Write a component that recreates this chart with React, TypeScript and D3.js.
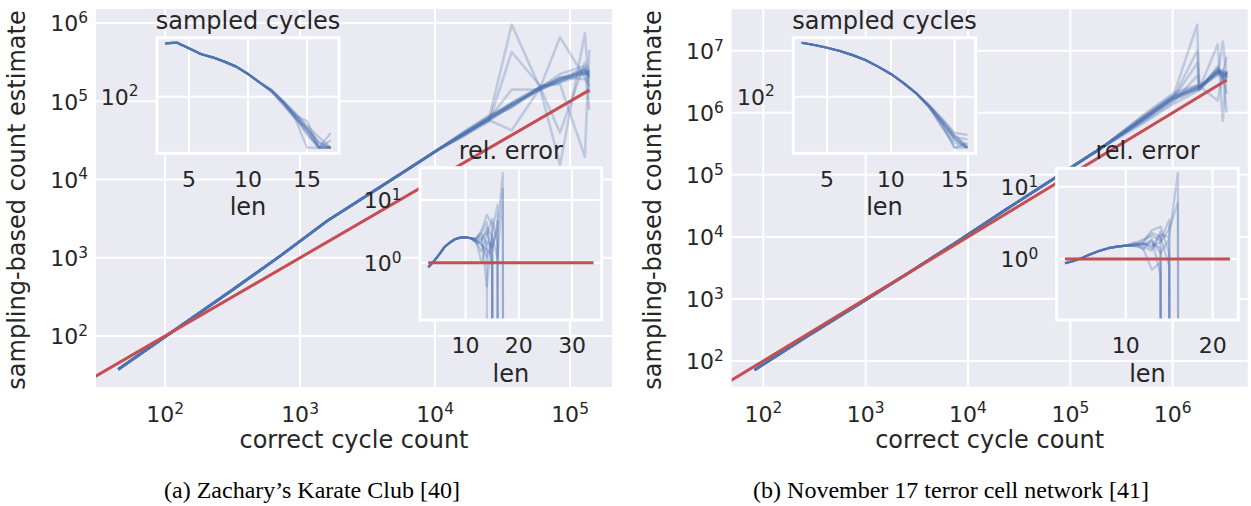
import React from 'react';
import * as d3 from 'd3';

const BLUE = '#4C72B0';
const RED = '#C44E52';
const BG = '#EAEAF2';
const TXT = '#262626';
const FONT = "'DejaVu Sans', sans-serif";
const SERIF = "'Liberation Serif', 'Times New Roman', serif";

// ---------------- Karate club: main plot ----------------
const karateCorrectCounts = [45, 126, 316, 708, 1585, 3162, 6026, 10471, 16596, 25119, 36983, 59979, 84333, 128825, 139000];
const karateEstimateHead = [37.5, 129, 389, 1047, 2951, 6310, 12882, 23988];
const karateEstimateTails = [
  [38000, 58000, 85100, 141000, 178000, 251000, 200000],
  [39800, 63100, 95500, 151000, 200000, 229000, 224000],
  [38900, 60300, 955000, 148000, 661000, 200000, 178000],
  [41700, 66100, 91200, 145000, 15500, 741000, 126000],
  [36300, 55000, 427000, 158000, 166000, 19500, 457000],
  [38900, 57500, 42700, 148000, 224000, 282000, 77600],
  [37200, 60300, 141000, 141000, 191000, 263000, 214000],
  [40700, 63100, 83200, 155000, 174000, 224000, 251000],
  [38000, 58000, 93300, 138000, 204000, 191000, 158000],
  [39800, 61000, 89100, 151000, 39800, 316000, 229000],
  [38900, 59000, 87000, 150000, 190000, 245000, 215000],
  [40000, 62000, 92000, 146000, 185000, 238000, 236000],
  [37600, 60800, 96000, 153000, 196000, 257000, 190000],
  [39400, 57000, 88000, 144000, 182000, 232000, 206000],
];
const karateIdentity = [30, 139000];
const karateMainXTicks = [1e2, 1e3, 1e4, 1e5];
const karateMainYTicks = [1e2, 1e3, 1e4, 1e5, 1e6];

// Karate: sampled cycles inset
const karateSampledLens = [3, 4, 5, 6, 7, 8, 9, 10, 11, 12, 13, 14, 15, 16, 17];
const karateSampledHead = [358, 363, 318, 277, 256, 231, 205, 172, 140];
const karateSampledTails = [
  [115, 86, 62, 45, 29.5, 29.5],
  [118, 90, 66, 50, 38, 29.5],
  [112, 82, 58, 29.5, 29.5, 29.5],
  [116, 88, 64, 56, 29.5, 42],
  [113, 84, 60, 42, 29.5, 35],
  [117, 89, 68, 48, 33, 29.5],
  [114, 85, 61, 40, 29.5, 29.5],
  [116, 87, 63, 47, 31, 29.5],
  [115, 86, 65, 44, 29.5, 29.5],
  [114, 88, 60, 46, 34, 29.5],
];
const karateSampledXTicks = [5, 10, 15];
const karateSampledYTicks = [1e2];

// Karate: relative error inset
const karateRelErrLens = [3, 4, 5, 6, 7, 8, 9, 10, 11, 12, 13, 14, 15, 16, 17, 18];
const karateRelErrHead = [0.843, 1.04, 1.33, 1.76, 2.08, 2.36, 2.51, 2.54, 2.45];
const karateRelErrTails = [
  [2.24, 1.9, 1.6, 1.3, 0, 0, 0],
  [2.4, 3.0, 4.5, 0.8, 0, 0, 0],
  [2.1, 1.5, 2.8, 5.0, 2.0, 0, 0],
  [2.3, 2.6, 0.42, 3.2, 8.3, 0, 0],
  [2.2, 1.0, 2.2, 1.8, 3.5, 27, 0],
  [2.35, 3.3, 5.8, 4.0, 0, 0, 0],
  [2.5, 2.9, 2.0, 0, 0, 0, 0],
  [2.05, 2.2, 3.6, 2.6, 1.2, 15, 0],
  [2.28, 2.0, 1.2, 2.4, 0, 0, 0],
  [2.18, 2.4, 3.1, 1.5, 4.6, 0, 0],
];
const karateRelErrRefLens = [3, 34];
const karateRelErrRef = [1, 1];
const karateRelErrXTicks = [10, 20, 30];
const karateRelErrYTicks = [1, 10];

// ---------------- November 17: main plot ----------------
const nov17CorrectCounts = [82, 263, 832, 2630, 7943, 23988, 70795, 199526, 501187, 1023293, 1737801, 1819701, 2754229, 3090295, 3372873];
const nov17EstimateHead = [71.6, 245, 794, 2630, 8510, 28200, 89100, 269000];
const nov17EstimateTails = [
  [724000, 1660000, 2400000, 2570000, 4470000, 4170000, 3980000],
  [851000, 1950000, 26300000, 2400000, 5010000, 3800000, 4470000],
  [759000, 1780000, 10000000, 2630000, 3980000, 14100000, 3550000],
  [692000, 1510000, 3980000, 2450000, 12600000, 741000, 4790000],
  [794000, 1740000, 6310000, 2690000, 1580000, 4470000, 7940000],
  [891000, 2090000, 2820000, 2510000, 5250000, 4170000, 1000000],
  [661000, 1410000, 2240000, 2340000, 4570000, 3550000, 4270000],
  [776000, 1820000, 2630000, 2750000, 4370000, 5010000, 3800000],
  [813000, 1860000, 2400000, 2290000, 5620000, 3160000, 4570000],
  [741000, 1700000, 2570000, 2510000, 4790000, 4270000, 2000000],
  [770000, 1720000, 2500000, 2480000, 4600000, 4300000, 4100000],
  [800000, 1800000, 2600000, 2600000, 4900000, 4400000, 4400000],
  [745000, 1640000, 2350000, 2420000, 4300000, 3900000, 3700000],
  [820000, 1900000, 2700000, 2550000, 4700000, 4600000, 4200000],
];
const nov17Identity = [40, 3372873];
const nov17MainXTicks = [1e2, 1e3, 1e4, 1e5, 1e6];
const nov17MainYTicks = [1e2, 1e3, 1e4, 1e5, 1e6, 1e7];

// Nov17: sampled cycles inset
const nov17SampledLens = [3, 4, 5, 6, 7, 8, 9, 10, 11, 12, 13, 14, 15, 16];
const nov17SampledHead = [363, 344, 322, 298, 270, 240, 205, 172, 138, 108];
const nov17SampledTails = [
  [79, 53, 35.5, 29.5],
  [82, 58, 40, 29.5],
  [77, 50, 29.5, 29.5],
  [80, 56, 38, 36],
  [78, 48, 33, 29.5],
  [81, 60, 42, 40],
  [79, 52, 29.5, 33],
  [80, 55, 37, 29.5],
  [78, 54, 36, 29.5],
  [81, 57, 39, 31],
];
const nov17SampledXTicks = [5, 10, 15];
const nov17SampledYTicks = [1e2];

// Nov17: relative error inset
const nov17RelErrLens = [3, 4, 5, 6, 7, 8, 9, 10, 11, 12, 13, 14, 15, 16, 17];
const nov17RelErrHead = [0.871, 0.938, 1.04, 1.17, 1.3, 1.41, 1.48, 1.53];
const nov17RelErrTails = [
  [1.56, 1.58, 1.65, 1.4, 0, 0, 0],
  [1.6, 1.75, 2.5, 2.8, 1.2, 0, 0],
  [1.52, 1.4, 0.71, 0.9, 0, 0, 0],
  [1.65, 1.86, 2.1, 1.8, 3.5, 0, 0],
  [1.5, 1.5, 1.3, 2.2, 2.0, 15.5, 0],
  [1.7, 1.35, 1.9, 0.6, 0, 0, 0],
  [1.55, 1.62, 1.5, 1.7, 2.6, 6, 0],
  [1.58, 1.68, 2.3, 2.0, 0.8, 0, 0],
  [1.57, 1.6, 1.8, 1.2, 1.9, 0, 0],
  [1.54, 1.66, 1.4, 2.4, 0, 0, 0],
];
const nov17RelErrRefLens = [3, 22];
const nov17RelErrRef = [1, 1];
const nov17RelErrXTicks = [10, 20];
const nov17RelErrYTicks = [1, 10];

const captions = ['(a) Zachary\u2019s Karate Club [40]', '(b) November 17 terror cell network [41]'];

// ---------------- layout ----------------
type Box = { x0: number; x1: number; y0: number; y1: number };

const buildRuns = (head: number[], tails: number[][]) => tails.map((t) => head.concat(t));

const panels = [
  {
    id: 'a',
    main: {
      box: { x0: 96, x1: 612, y0: 9, y1: 387 },
      xDomain: [30.8, 204600],
      yDomain: [22.3, 1513561],
      xs: karateCorrectCounts,
      runs: buildRuns(karateEstimateHead, karateEstimateTails),
      identity: karateIdentity,
      xTicks: karateMainXTicks,
      yTicks: karateMainYTicks,
    },
    sampled: {
      box: { x0: 157, x1: 339, y0: 37.7, y1: 153.3 },
      xDomain: [2.3, 17.7],
      yDomain: [25.8, 409.3],
      xs: karateSampledLens,
      runs: buildRuns(karateSampledHead, karateSampledTails),
      xTicks: karateSampledXTicks,
      yTicks: karateSampledYTicks,
      title: 'sampled cycles',
    },
    relerr: {
      box: { x0: 420, x1: 601.7, y0: 167.7, y1: 320 },
      xDomain: [1.45, 35.55],
      yDomain: [0.1219, 32.7],
      xs: karateRelErrLens,
      runs: buildRuns(karateRelErrHead, karateRelErrTails),
      refXs: karateRelErrRefLens,
      ref: karateRelErrRef,
      xTicks: karateRelErrXTicks,
      yTicks: karateRelErrYTicks,
      title: 'rel. error',
    },
    caption: captions[0],
    captionX: 312,
    yLabelX: 25,
  },
  {
    id: 'b',
    main: {
      box: { x0: 731.7, x1: 1247.7, y0: 9.3, y1: 386.7 },
      xDomain: [49.1, 5407543],
      yDomain: [38.5, 46558609],
      xs: nov17CorrectCounts,
      runs: buildRuns(nov17EstimateHead, nov17EstimateTails),
      identity: nov17Identity,
      xTicks: nov17MainXTicks,
      yTicks: nov17MainYTicks,
    },
    sampled: {
      box: { x0: 793.3, x1: 975.7, y0: 37.7, y1: 153.3 },
      xDomain: [2.35, 16.65],
      yDomain: [25.8, 409.3],
      xs: nov17SampledLens,
      runs: buildRuns(nov17SampledHead, nov17SampledTails),
      xTicks: nov17SampledXTicks,
      yTicks: nov17SampledYTicks,
      title: 'sampled cycles',
    },
    relerr: {
      box: { x0: 1056.7, x1: 1238.3, y0: 168.3, y1: 320 },
      xDomain: [2.05, 22.95],
      yDomain: [0.1432, 17.95],
      xs: nov17RelErrLens,
      runs: buildRuns(nov17RelErrHead, nov17RelErrTails),
      refXs: nov17RelErrRefLens,
      ref: nov17RelErrRef,
      xTicks: nov17RelErrXTicks,
      yTicks: nov17RelErrYTicks,
      title: 'rel. error',
    },
    caption: captions[1],
    captionX: 951,
    yLabelX: 660.7,
  },
];

const TICK_FS = 22;
const LABEL_FS = 24;

const safe = (v: number) => (v > 0 ? v : 1e-100);

function Pow10({ x, y, value, anchor }: { x: number; y: number; value: number; anchor: string }) {
  const e = Math.round(Math.log10(value));
  return (
    <text x={x} y={y} textAnchor={anchor} fontSize={TICK_FS} fill={TXT} fontFamily={FONT}>
      10
      <tspan dy={-TICK_FS * 0.38} fontSize={TICK_FS * 0.7}>
        {e}
      </tspan>
    </text>
  );
}

function MainPlot({ cfg, id }: { cfg: any; id: string }) {
  const b: Box = cfg.box;
  const x = d3.scaleLog().domain(cfg.xDomain).range([b.x0, b.x1]);
  const y = d3.scaleLog().domain(cfg.yDomain).range([b.y1, b.y0]);
  const line = d3
    .line<[number, number]>()
    .x((d) => x(d[0]))
    .y((d) => y(safe(d[1])));
  const clip = `clip-main-${id}`;
  return (
    <g>
      <defs>
        <clipPath id={clip}>
          <rect x={b.x0} y={b.y0} width={b.x1 - b.x0} height={b.y1 - b.y0} />
        </clipPath>
      </defs>
      <rect x={b.x0} y={b.y0} width={b.x1 - b.x0} height={b.y1 - b.y0} fill={BG} />
      {cfg.xTicks.map((t: number) => (
        <line key={'gx' + t} x1={x(t)} x2={x(t)} y1={b.y0} y2={b.y1} stroke="#fff" strokeWidth={2} />
      ))}
      {cfg.yTicks.map((t: number) => (
        <line key={'gy' + t} x1={b.x0} x2={b.x1} y1={y(t)} y2={y(t)} stroke="#fff" strokeWidth={2} />
      ))}
      <g clipPath={`url(#${clip})`}>
        {cfg.runs.map((r: number[], i: number) => (
          <path
            key={i}
            d={line(r.map((v, k) => [cfg.xs[k], v]) as [number, number][]) || ''}
            fill="none"
            stroke={BLUE}
            strokeOpacity={0.28}
            strokeWidth={2.6}
            strokeLinejoin="round"
          />
        ))}
        <path
          d={line(cfg.identity.map((v: number) => [v, v]) as [number, number][]) || ''}
          fill="none"
          stroke={RED}
          strokeWidth={3}
        />
      </g>
      {cfg.xTicks.map((t: number) => (
        <Pow10 key={'lx' + t} x={x(t)} y={b.y1 + 35} value={t} anchor="middle" />
      ))}
      {cfg.yTicks.map((t: number) => (
        <Pow10 key={'ly' + t} x={b.x0 - 8} y={y(t) + 8.2} value={t} anchor="end" />
      ))}
    </g>
  );
}

function Inset({ cfg, id }: { cfg: any; id: string }) {
  const b: Box = cfg.box;
  const x = d3.scaleLinear().domain(cfg.xDomain).range([b.x0, b.x1]);
  const y = d3.scaleLog().domain(cfg.yDomain).range([b.y1, b.y0]);
  const line = d3
    .line<[number, number]>()
    .x((d) => x(d[0]))
    .y((d) => y(safe(d[1])));
  const clip = `clip-inset-${id}`;
  return (
    <g>
      <defs>
        <clipPath id={clip}>
          <rect x={b.x0} y={b.y0} width={b.x1 - b.x0} height={b.y1 - b.y0} />
        </clipPath>
      </defs>
      <rect x={b.x0} y={b.y0} width={b.x1 - b.x0} height={b.y1 - b.y0} fill={BG} />
      {cfg.xTicks.map((t: number) => (
        <line key={'gx' + t} x1={x(t)} x2={x(t)} y1={b.y0} y2={b.y1} stroke="#fff" strokeWidth={2} />
      ))}
      {cfg.yTicks.map((t: number) => (
        <line key={'gy' + t} x1={b.x0} x2={b.x1} y1={y(t)} y2={y(t)} stroke="#fff" strokeWidth={2} />
      ))}
      <g clipPath={`url(#${clip})`}>
        {cfg.runs.map((r: number[], i: number) => (
          <path
            key={i}
            d={line(r.map((v, k) => [cfg.xs[k], v]) as [number, number][]) || ''}
            fill="none"
            stroke={BLUE}
            strokeOpacity={0.3}
            strokeWidth={2.2}
            strokeLinejoin="round"
          />
        ))}
        {cfg.ref && (
          <path
            d={line(cfg.ref.map((v: number, k: number) => [cfg.refXs[k], v]) as [number, number][]) || ''}
            fill="none"
            stroke={RED}
            strokeWidth={3}
          />
        )}
      </g>
      <rect
        x={b.x0}
        y={b.y0}
        width={b.x1 - b.x0}
        height={b.y1 - b.y0}
        fill="none"
        stroke="#fff"
        strokeWidth={3}
      />
      {cfg.xTicks.map((t: number) => (
        <text
          key={'lx' + t}
          x={x(t)}
          y={b.y1 + 33.4}
          textAnchor="middle"
          fontSize={TICK_FS}
          fill={TXT}
          fontFamily={FONT}
        >
          {t}
        </text>
      ))}
      {cfg.yTicks.map((t: number) => (
        <Pow10 key={'ly' + t} x={b.x0 - 18.5} y={y(t) + 8.2} value={t} anchor="end" />
      ))}
      <text
        x={(b.x0 + b.x1) / 2}
        y={b.y0 - 9}
        textAnchor="middle"
        fontSize={LABEL_FS}
        fill={TXT}
        fontFamily={FONT}
      >
        {cfg.title}
      </text>
      <text
        x={(b.x0 + b.x1) / 2}
        y={b.y1 + 61.5}
        textAnchor="middle"
        fontSize={LABEL_FS}
        fill={TXT}
        fontFamily={FONT}
      >
        len
      </text>
    </g>
  );
}

export default function App() {
  return (
    <svg
      width={1251}
      height={506}
      style={{ position: 'absolute', left: 0, top: 0, background: '#fff' }}
      xmlns="http://www.w3.org/2000/svg"
    >
      <rect x={0} y={0} width={1251} height={506} fill="#fff" />
      {panels.map((p) => {
        const mb = p.main.box;
        const cy = (mb.y0 + mb.y1) / 2 + 2;
        return (
          <g key={p.id}>
            <MainPlot cfg={p.main} id={p.id} />
            <Inset cfg={p.sampled} id={p.id + 's'} />
            <Inset cfg={p.relerr} id={p.id + 'r'} />
            <text
              x={(mb.x0 + mb.x1) / 2}
              y={448.3}
              textAnchor="middle"
              fontSize={LABEL_FS}
              fill={TXT}
              fontFamily={FONT}
            >
              correct cycle count
            </text>
            <text
              transform={`translate(${p.yLabelX},${cy}) rotate(-90)`}
              textAnchor="middle"
              fontSize={LABEL_FS}
              fill={TXT}
              fontFamily={FONT}
            >
              sampling-based count estimate
            </text>
            <text x={p.captionX} y={498} textAnchor="middle" fontSize={24} fill="#000" fontFamily={SERIF}>
              {p.caption}
            </text>
          </g>
        );
      })}
    </svg>
  );
}
